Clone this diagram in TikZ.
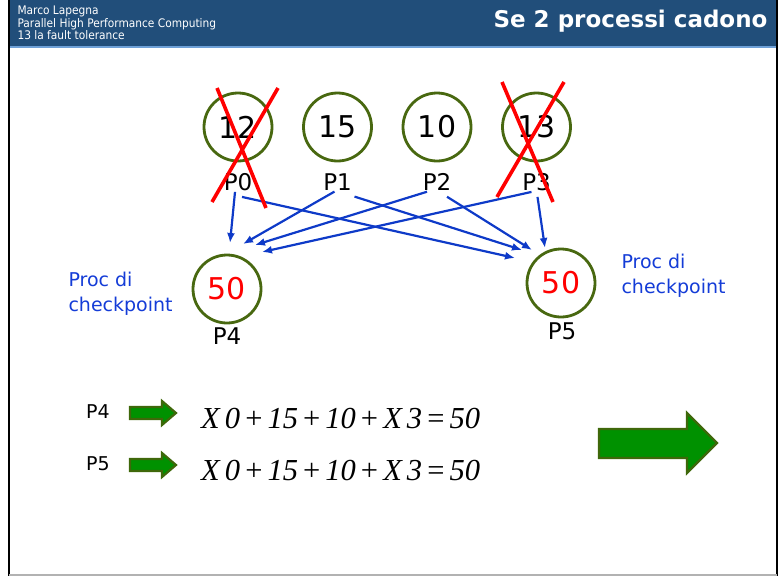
\documentclass[tikz,border=0pt]{standalone}
\usepackage{fontspec}
\setmainfont{DejaVu Sans}
\newfontfamily\headfont{DejaVu Sans Condensed}
\newfontfamily\handfont{DejaVu Sans}
\newfontfamily\eqfont{Liberation Serif}
\usepackage{xcolor}
\definecolor{barblue}{RGB}{33,78,122}
\definecolor{barline}{RGB}{110,160,215}
\definecolor{ringgreen}{RGB}{72,104,16}
\definecolor{linkblue}{RGB}{14,58,200}
\definecolor{noteblue}{RGB}{20,60,215}
\definecolor{fillgreen}{RGB}{0,145,0}
\definecolor{edgegreen}{RGB}{62,104,10}
\usepackage{tikz}
\usetikzlibrary{arrows.meta}

\begin{document}
\begin{tikzpicture}[x=1pt,y=-1pt,
    ring/.style={circle, draw=ringgreen, line width=2.8pt, minimum size=68pt, inner sep=0pt,
                 font=\handfont\fontsize{30}{30}\selectfont},
    plabel/.style={inner sep=1pt, font=\handfont\fontsize{23}{23}\selectfont},
    note/.style={anchor=west, align=left, text=noteblue, font=\handfont\fontsize{19}{25}\selectfont},
    link/.style={-{Latex[length=10pt,width=8pt]}, line width=2.2pt, draw=linkblue},
    cross/.style={line width=3.6pt, draw=red},
    greenarrow/.style={fill=fillgreen, draw=edgegreen, line width=2.2pt, line join=miter}]
    \useasboundingbox (0,0) rectangle (778,576);

    % Slide frame and title bar
    \fill[barblue] (10,0) rectangle (776,46);
    \draw[barline, line width=1.5pt] (10,47) -- (776,47);
    \draw[black, line width=2.5pt] (9,0) -- (9,576);
    \draw[black, line width=2pt] (777,0) -- (777,576);
    \draw[gray!60, line width=1.5pt] (9,575) -- (777,575);
    \node[anchor=west, align=left, text=white, font=\headfont\fontsize{11.8}{12.4}\selectfont] (author) at (14,23)
        {Marco Lapegna\\Parallel High Performance Computing\\13 la fault tolerance};
    \node[anchor=east, text=white, font=\bfseries\fontsize{23}{23}\selectfont] (title) at (771,21) {Se 2 processi cadono};

    % Processes with their values
    \foreach \i/\val in {0/12, 1/15, 2/10, 3/13} {
        \node[ring] (c\i) at (238+99.5*\i,127) {\val};
        \node[plabel] (l\i) at (238+99.5*\i,182) {P\i};
    }

    % Checkpoint processes
    \node[ring, text=red] (c4) at (227,289) {50};
    \node[plabel] (l4) at (227,336) {P4};
    \node[ring, text=red] (c5) at (561,283) {50};
    \node[plabel] (l5) at (562,331) {P5};
    \node[note] (n4) at (65,294) {Proc di\\checkpoint};
    \node[note] (n5) at (618,276) {Proc di\\checkpoint};

    % Arrow ends
    \coordinate (a40) at (230,243);
    \coordinate (a41) at (243,244);
    \coordinate (a42) at (255,245);
    \coordinate (a43) at (262,252);
    \coordinate (a50) at (515,258);
    \coordinate (a51) at (522,250);
    \coordinate (a52) at (532,250);
    \coordinate (a53) at (545,248);

    % Every process sends its value to both checkpoint processes
    \foreach \i/\dl/\dr in {0/-3/4, 1/-3/17, 2/-10/10, 3/-5/1} {
        \draw[link] ([xshift=\dl pt]l\i.south) -- (a4\i);
        \draw[link] ([xshift=\dr pt, yshift=-5pt]l\i.south) -- (a5\i);
    }

    % Failed processes
    \draw[cross] (212,202) -- (278,88) (217,88) -- (266,208);
    \draw[cross] (502,82) -- (553,202) (564,82) -- (497,197);

    % Resulting equations
    \foreach \k/\y in {4/413, 5/465} {
        \node[plabel, font=\handfont\fontsize{19}{19}\selectfont] (q\k) at (98,\y-1) {P\k};
        \draw[greenarrow] (130,\y-6) -- (162,\y-6) -- (162,\y-12) -- (176,\y) -- (162,\y+12)
            -- (162,\y+6) -- (130,\y+6) -- cycle;
        \node[anchor=west, inner sep=0pt, font=\eqfont\fontsize{30.5}{30}\selectfont] (eq\k) at (201,\y+5)
            {\textit{X\,0}\,+\,\textit{15}\,+\,\textit{10}\,+\,\textit{X\,3}\,=\,\textit{50}};
    }

    % Big arrow
    \draw[greenarrow] (599,429) -- (687,429) -- (687,413) -- (717,443) -- (687,473) -- (687,458)
        -- (599,458) -- cycle;
\end{tikzpicture}
\end{document}
